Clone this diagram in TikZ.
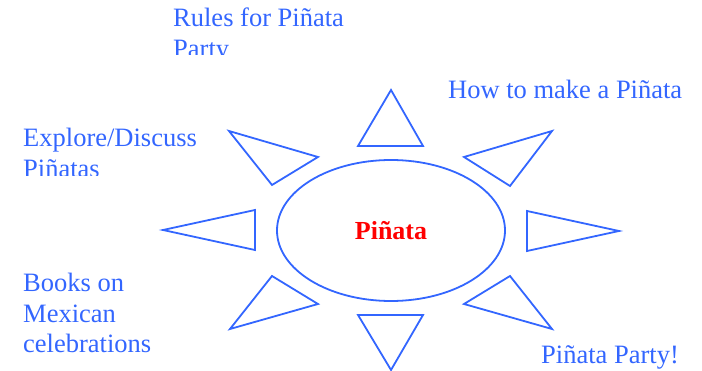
\documentclass[tikz,border=0pt]{standalone}
\usepackage{fontspec}
\setmainfont{Liberation Serif}
\usetikzlibrary{shapes.geometric}
\definecolor{pblue}{RGB}{51,102,255}
\definecolor{pred}{RGB}{255,0,0}
\begin{document}
\begin{tikzpicture}[x=1pt,y=-1pt,
  lbl/.style={text=pblue,font=\fontsize{26.5}{30.5}\selectfont,inner sep=0pt,anchor=base west,align=left},
  tri/.style={draw=pblue,line width=1.8pt,line join=miter},
  hub/.style={draw=pblue,line width=1.8pt,ellipse,minimum width=228pt,minimum height=141pt,inner sep=0pt}]
\useasboundingbox (0,0) rectangle (702,371);
% centre
\node[hub] (c) at (391,230.5) {};
\node[text=pred,font=\fontsize{26}{30.5}\selectfont\bfseries,anchor=base] (ct) at (391,240) {Piñata};
% triangles
\draw[tri] (391,90) -- (423,146) -- (358,146) -- cycle;
\draw[tri] (358,315) -- (423,315) -- (391,370) -- cycle;
\draw[tri] (229,131) -- (318,157) -- (272,185) -- cycle;
\draw[tri] (552,131) -- (464,157) -- (510,186) -- cycle;
\draw[tri] (163,230) -- (255,210) -- (255,250) -- cycle;
\draw[tri] (619,231) -- (527,211) -- (527,251) -- cycle;
\draw[tri] (272,276) -- (318,304) -- (230,329) -- cycle;
\draw[tri] (510,276) -- (464,304) -- (552,329) -- cycle;
% labels
\begin{scope}
\clip (0,0) rectangle (702,55);
\node[lbl] (rules) at (173,57.5) {Rules for Piñata\\Party};
\end{scope}
\begin{scope}
\clip (0,100) rectangle (702,176);
\node[lbl] (explore) at (23,177.5) {Explore/Discuss\\Piñatas};
\end{scope}
\node[lbl] (how) at (448,99) {How to make a Piñata};
\node[lbl] (books) at (23,353) {Books on\\Mexican\\celebrations};
\node[lbl] (party) at (541,364) {Piñata Party!};
\end{tikzpicture}
\end{document}
